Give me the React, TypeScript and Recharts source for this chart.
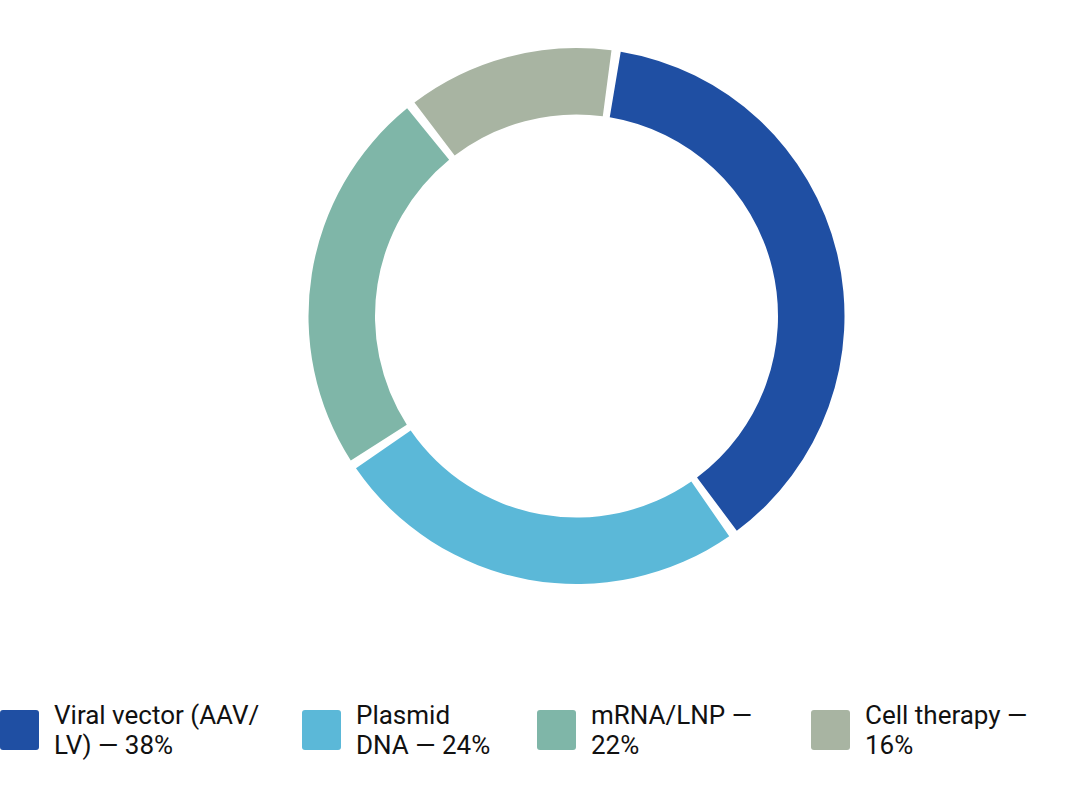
import { PieChart, Pie, Cell } from "recharts";

const names = ["Viral vector (AAV/LV)", "Plasmid DNA", "mRNA/LNP", "Cell therapy"];
// slice sizes as drawn in the ring
const shares = [38, 25.6, 23.7, 12.7];
// legend text, split where the reference wraps
const legendLines = [
  ["Viral vector (AAV/", "LV) — 38%"],
  ["Plasmid", "DNA — 24%"],
  ["mRNA/LNP —", "22%"],
  ["Cell therapy —", "16%"],
];
const colors = ["#1f4fa3", "#5bb8d8", "#7fb6a8", "#a8b4a2"];
const legendLeft = [0, 302, 537, 811];

const data = names.map((name, i) => ({ name, value: shares[i] }));

export default function App() {
  return (
    <div
      style={{
        position: "absolute",
        left: 0,
        top: 0,
        width: 1080,
        height: 804,
        background: "#fff",
        fontFamily: "Roboto, sans-serif",
      }}
    >
      <PieChart width={1080} height={640} margin={{ top: 0, right: 0, bottom: 0, left: 0 }}>
        <Pie
          data={data}
          dataKey="value"
          nameKey="name"
          cx={576.5}
          cy={316}
          innerRadius={201.5}
          outerRadius={268}
          startAngle={80.5}
          endAngle={-279.5}
          paddingAngle={2}
          stroke="none"
          isAnimationActive={false}
        >
          {data.map((d, i) => (
            <Cell key={d.name} fill={colors[i]} />
          ))}
        </Pie>
      </PieChart>
      {legendLines.map((lines, i) => (
        <div
          key={names[i]}
          style={{
            position: "absolute",
            left: legendLeft[i],
            top: 700,
            height: 60,
            display: "flex",
            alignItems: "center",
          }}
        >
          <div
            style={{
              width: 39,
              height: 40,
              borderRadius: 3,
              background: colors[i],
              marginRight: 15,
              flexShrink: 0,
            }}
          />
          <div
            style={{
              fontSize: 26,
              lineHeight: "30px",
              color: "#111",
              whiteSpace: "nowrap",
            }}
          >
            {lines.map((t) => (
              <div key={t}>{t}</div>
            ))}
          </div>
        </div>
      ))}
    </div>
  );
}
